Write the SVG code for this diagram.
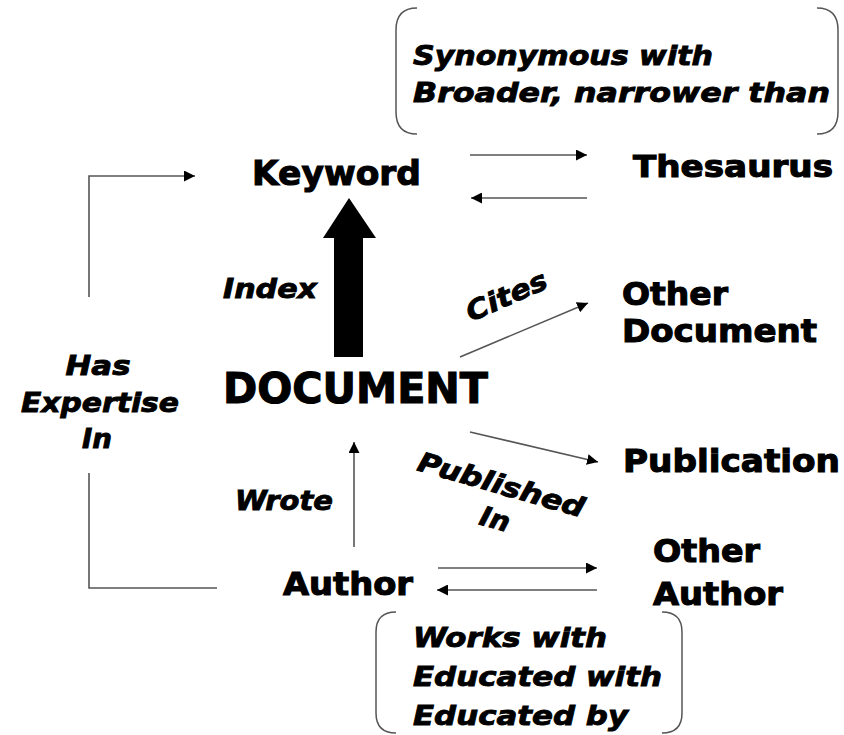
<svg xmlns="http://www.w3.org/2000/svg" width="844" height="735" viewBox="0 0 844 735">
<defs>
<style>
.node{font-family:"DejaVu Sans","Liberation Sans",sans-serif;font-weight:bold;fill:#000;stroke:#000;stroke-width:1.1}
.lbl{font-family:"DejaVu Sans","Liberation Sans",sans-serif;font-weight:bold;font-style:italic;fill:#000;stroke:#000;stroke-width:0.9;font-size:27px}
.ln{stroke:#555;stroke-width:1.6;fill:none}
.br{stroke:#555;stroke-width:1.5;fill:none}
</style>
<marker id="ah" viewBox="0 0 10 10" refX="10" refY="5" markerWidth="11" markerHeight="11" markerUnits="userSpaceOnUse" orient="auto">
<path d="M0,0 L10,5 L0,10 z" fill="#000"/>
</marker>
</defs>
<rect width="844" height="735" fill="#fff"/>

<g id="connectors">
<line class="ln" x1="470" y1="155" x2="587" y2="155" marker-end="url(#ah)"/>
<line class="ln" x1="587" y1="198" x2="471" y2="198" marker-end="url(#ah)"/>
<line class="ln" x1="460" y1="357" x2="588" y2="303" marker-end="url(#ah)"/>
<line class="ln" x1="470" y1="432" x2="598" y2="462" marker-end="url(#ah)"/>
<line class="ln" x1="354" y1="547" x2="354" y2="442" marker-end="url(#ah)"/>
<line class="ln" x1="438" y1="568" x2="597" y2="568" marker-end="url(#ah)"/>
<line class="ln" x1="597" y1="590" x2="437" y2="590" marker-end="url(#ah)"/>
<polyline class="ln" points="217,588 89,588 89,473"/>
<polyline class="ln" points="89,297 89,176 195,176" marker-end="url(#ah)"/>
<polygon points="334,357 363,357 363,238 376,238 349,198 323,238 334,238" fill="#000"/>
</g>

<g id="thesaurus-note">
<path class="br" d="M417,8 Q396,8 396,30 L396,112 Q396,134 417,134"/>
<path class="br" d="M817,8 Q838,8 838,30 L838,112 Q838,134 817,134"/>
<text class="lbl" x="413" y="65" font-size="26" textLength="300" lengthAdjust="spacingAndGlyphs">Synonymous with</text>
<text class="lbl" x="413" y="102" font-size="26" textLength="417" lengthAdjust="spacingAndGlyphs">Broader, narrower than</text>
</g>

<g id="keyword"><text class="node" x="252" y="185" font-size="34" textLength="169" lengthAdjust="spacingAndGlyphs">Keyword</text></g>
<g id="thesaurus"><text class="node" x="633" y="177" font-size="31" textLength="200" lengthAdjust="spacingAndGlyphs">Thesaurus</text></g>
<g id="other-document">
<text class="node" x="622" y="305" font-size="32" textLength="106" lengthAdjust="spacingAndGlyphs">Other</text>
<text class="node" x="622" y="342" font-size="32" textLength="195" lengthAdjust="spacingAndGlyphs">Document</text>
</g>
<g id="document"><text class="node" x="223" y="403" font-size="42" textLength="265" lengthAdjust="spacingAndGlyphs">DOCUMENT</text></g>
<g id="publication"><text class="node" x="623" y="472" font-size="32" textLength="217" lengthAdjust="spacingAndGlyphs">Publication</text></g>
<g id="author"><text class="node" x="283" y="595" font-size="32" textLength="130" lengthAdjust="spacingAndGlyphs">Author</text></g>
<g id="other-author">
<text class="node" x="653" y="562" font-size="32" textLength="107" lengthAdjust="spacingAndGlyphs">Other</text>
<text class="node" x="653" y="605" font-size="32" textLength="130" lengthAdjust="spacingAndGlyphs">Author</text>
</g>

<g id="labels">
<text class="lbl" x="223" y="298" textLength="94" lengthAdjust="spacingAndGlyphs">Index</text>
<text class="lbl" x="235" y="510" textLength="98" lengthAdjust="spacingAndGlyphs">Wrote</text>
<text class="lbl" transform="translate(471,322) rotate(-24)" textLength="86" lengthAdjust="spacingAndGlyphs">Cites</text>
<text class="lbl" transform="translate(416,470) rotate(16)" textLength="172" lengthAdjust="spacingAndGlyphs">Published</text>
<text class="lbl" transform="translate(478,524) rotate(16)" textLength="30" lengthAdjust="spacingAndGlyphs">In</text>
<text class="lbl" x="98" y="375" text-anchor="middle" textLength="65" lengthAdjust="spacingAndGlyphs">Has</text>
<text class="lbl" x="100" y="412" text-anchor="middle" textLength="158" lengthAdjust="spacingAndGlyphs">Expertise</text>
<text class="lbl" x="97" y="448" text-anchor="middle" textLength="30" lengthAdjust="spacingAndGlyphs">In</text>
</g>

<g id="author-note">
<path class="br" d="M396,612 Q376,612 376,632 L376,713 Q376,733 396,733"/>
<path class="br" d="M662,612 Q682,612 682,632 L682,713 Q682,733 662,733"/>
<text class="lbl" x="413" y="647" font-size="26" textLength="194" lengthAdjust="spacingAndGlyphs">Works with</text>
<text class="lbl" x="413" y="686" font-size="26" textLength="249" lengthAdjust="spacingAndGlyphs">Educated with</text>
<text class="lbl" x="413" y="725" font-size="26" textLength="215" lengthAdjust="spacingAndGlyphs">Educated by</text>
</g>
</svg>
